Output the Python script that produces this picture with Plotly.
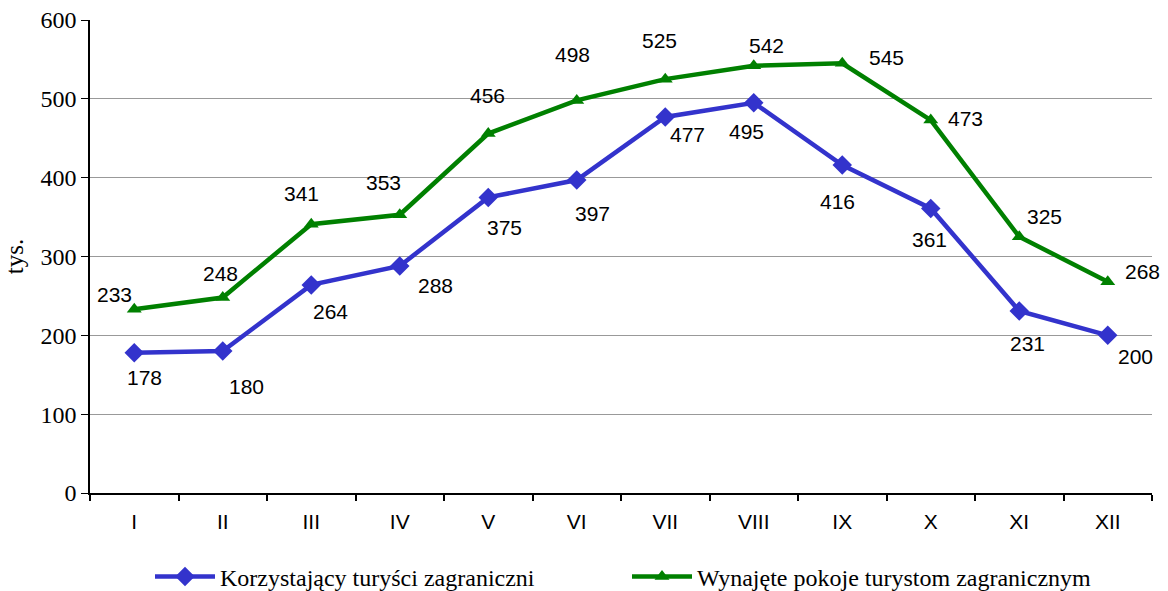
import plotly.graph_objects as go

months = ["I", "II", "III", "IV", "V", "VI", "VII", "VIII", "IX", "X", "XI", "XII"]
tourists = [178, 180, 264, 288, 375, 397, 477, 495, 416, 361, 231, 200]
rooms = [233, 248, 341, 353, 456, 498, 525, 542, 545, 473, 325, 268]
name_tourists = "Korzystający turyści zagraniczni"
name_rooms = "Wynajęte pokoje turystom zagranicznym"

# label pixel offsets (dx right, dy down) relative to each point (style only)
off_rooms = [(-20, -15), (-2, -24), (-10, -31), (-16, -32), (-1, -38), (-4, -46),
             (-6, -39), (13, -20), (44, -6), (35, -2), (25, -20), (35, -10)]
off_tourists = [(10, 25), (24, 35), (19, 27), (36, 20), (16, 30), (16, 33),
                (22, 18), (-7, 29), (-5, 36), (-1, 31), (8, 33), (28, 21)]

SERIF = "Liberation Serif, Times New Roman, serif"
SANS = "Liberation Sans, Arial, sans-serif"

fig = go.Figure()
fig.add_trace(go.Scatter(
    x=months, y=tourists, name=name_tourists, mode="lines+markers",
    line=dict(color="#3333CC", width=4.5),
    marker=dict(symbol="diamond", size=15, color="#3333CC"),
))
fig.add_trace(go.Scatter(
    x=months, y=rooms, name=name_rooms, mode="lines+markers",
    line=dict(color="#008000", width=4.5),
    marker=dict(symbol="triangle-up", size=13, color="#008000"),
))

for vals, offs in ((rooms, off_rooms), (tourists, off_tourists)):
    for m, v, (dx, dy) in zip(months, vals, offs):
        fig.add_annotation(x=m, y=v, text=str(v), showarrow=False,
                           xshift=dx, yshift=-dy,
                           font=dict(family=SANS, size=21, color="black"))

fig.update_layout(
    width=1168, height=591,
    margin=dict(l=90, r=16, t=20, b=98),
    plot_bgcolor="white", paper_bgcolor="white",
    showlegend=True,
    legend=dict(orientation="h", xref="container", x=150 / 1168, xanchor="left",
                yref="container", y=14 / 591, yanchor="middle",
                font=dict(family=SERIF, size=24, color="black"),
                itemwidth=60, entrywidth=402, bgcolor="rgba(0,0,0,0)"),
    xaxis=dict(
        type="category", range=[-0.5, 11.5],
        showline=True, linecolor="black", linewidth=2,
        ticks="outside", tickson="boundaries", ticklen=6, tickwidth=2, tickcolor="black",
        showgrid=False, automargin=False, ticklabelstandoff=9,
        tickfont=dict(family=SANS, size=21, color="black"),
    ),
    yaxis=dict(
        range=[0, 600], dtick=100,
        showline=True, linecolor="black", linewidth=1.5,
        ticks="outside", ticklen=7, tickcolor="black",
        showgrid=True, gridcolor="#999999", gridwidth=1,
        zeroline=False, automargin=False,
        tickfont=dict(family=SERIF, size=24, color="black"),
        title=dict(text="tys.", font=dict(family=SERIF, size=25, color="black"), standoff=10),
    ),
)

fig.write_html("out.html", config={"displayModeBar": False},
               post_script="document.body.style.margin='0';")
